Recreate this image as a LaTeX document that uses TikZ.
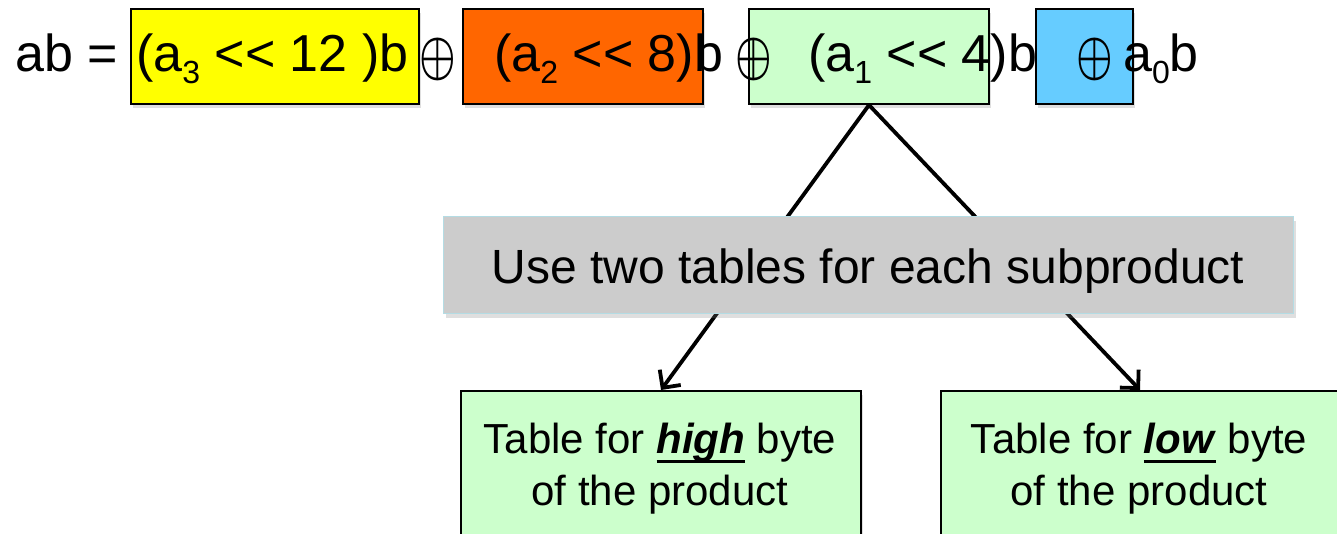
\documentclass[tikz,border=0pt]{standalone}
\usepackage{fontspec}
\setmainfont{Liberation Sans}
\usetikzlibrary{arrows.meta,shadows}

\definecolor{boxyellow}{HTML}{FFFF00}
\definecolor{boxorange}{HTML}{FF6600}
\definecolor{boxgreen}{HTML}{CCFFCC}
\definecolor{boxblue}{HTML}{66CCFF}
\definecolor{boxgray}{HTML}{CCCCCC}
\definecolor{grayedge}{HTML}{B4DCE4}

% subscript digit in the equation
\newcommand\eqsub[1]{\raisebox{-12pt}{\fontsize{32}{32}\selectfont #1}}
% the XOR operator, slightly taller than wide
\newcommand\xorop{\scalebox{4.1}[5.6]{\boldmath$\oplus$}}
% thick underline for emphasised words
\newcommand\thickul[1]{\setbox0\hbox{#1}\rlap{\rule[-10pt]{\wd0}{3.5pt}}\box0\relax}

\begin{document}
\begin{tikzpicture}[x=1pt,y=-1pt,
  termbox/.style={draw=black, line width=2pt, inner sep=0pt, anchor=north west,
    drop shadow={shadow xshift=2pt, shadow yshift=-4pt, opacity=0.25}},
  tablebox/.style={draw=black, line width=2pt, fill=boxgreen, inner sep=0pt,
    anchor=north west, drop shadow={shadow xshift=2pt, shadow yshift=-4pt, opacity=0.25}},
  notebox/.style={draw=grayedge, line width=1.2pt, fill=boxgray, inner sep=0pt,
    anchor=north west, drop shadow={shadow xshift=2pt, shadow yshift=-4pt, opacity=0.25}},
  eqtext/.style={anchor=base west, inner sep=0pt, font=\fontsize{52}{60}\selectfont},
  optext/.style={inner sep=0pt},
  tabletext/.style={anchor=base, align=center, inner sep=0pt,
    font=\fontsize{42}{52}\selectfont},
  notetext/.style={anchor=base, inner sep=0pt, font=\fontsize{48}{56}\selectfont},
  arrowline/.style={line width=3.8pt, -{Straight Barb[length=13pt,width=26pt]}}]

\useasboundingbox (0,0) rectangle (1337,533);
\clip (0,0) rectangle (1337,533);
\fill[white] (0,0) rectangle (1337,533);

% highlighted terms of the product
\node[termbox, fill=boxyellow, minimum width=288pt, minimum height=95pt] (t3) at (130,8) {};
\node[termbox, fill=boxorange, minimum width=240pt, minimum height=95pt] (t2) at (462,8) {};
\node[termbox, fill=boxgreen,  minimum width=240pt, minimum height=95pt] (t1) at (748,8) {};
\node[termbox, fill=boxblue,   minimum width=97pt,  minimum height=95pt] (t0) at (1035,8) {};

% the two lookup tables
\node[tablebox, minimum width=400pt, minimum height=180pt] (hi) at (460,390) {};
\node[tablebox, minimum width=398pt, minimum height=180pt] (lo) at (940,390) {};

% connectors from the a1 term to the tables
\draw[arrowline] (t1.south) -- (hi.north);
\draw[arrowline] (t1.south) -- (lo.north);

% note box drawn over the connectors
\node[notebox, minimum width=850pt, minimum height=97pt] (note) at (443,216) {};
\node[notetext] (notelbl) at (868,283) {Use two tables for each subproduct};

% the equation
\node[eqtext] (lhs) at (15,71) {ab =};
\node[eqtext] (e3) at (136,71) {(a\eqsub{3} <{}< 12 )b};
\node[optext] (x1) at (438,59) {\xorop};
\node[eqtext] (e2) at (494,71) {(a\eqsub{2} <{}< 8)b};
\node[optext] (x2) at (754,59) {\xorop};
\node[eqtext] (e1) at (808,71) {(a\eqsub{1} <{}< 4)b};
\node[optext] (x3) at (1095,59) {\xorop};
\node[eqtext] (e0) at (1123,71) {a\eqsub{0}b};

% table captions (base anchor sits on the last line)
\node[tabletext] (hilbl) at (660,505) {Table for \thickul{\textbf{\textit{high}}} byte\\of the product};
\node[tabletext] (lolbl) at (1139,505) {Table for \thickul{\textbf{\textit{low}}} byte\\of the product};
\end{tikzpicture}
\end{document}
